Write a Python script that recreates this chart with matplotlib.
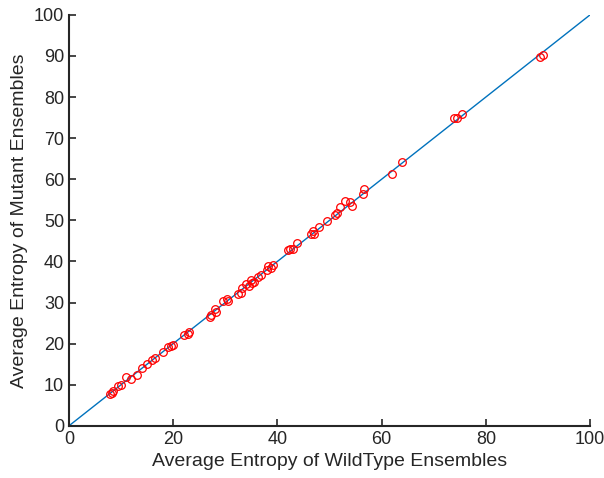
import matplotlib.pyplot as plt

wildtype = [7.8, 8.2, 8.5, 9.5, 10.0, 11.0, 12.0, 13.0, 14.0, 15.0, 16.0, 16.5, 18.0,
            19.0, 19.5, 20.0, 22.0, 22.8, 23.0, 27.0, 27.2, 28.0, 28.2, 29.5, 30.3,
            30.5, 32.5, 33.0, 33.3, 34.0, 34.5, 35.0, 35.2, 35.5, 36.3, 36.8, 38.0,
            38.3, 38.7, 39.2, 42.0, 42.5, 43.0, 43.8, 46.5, 46.8, 47.0, 48.0, 49.5,
            51.0, 51.5, 52.0, 53.0, 54.0, 54.3, 56.5, 56.7, 62.0, 64.0, 73.8, 74.5,
            75.5, 90.3, 91.0]
mutant = [7.8, 8.0, 8.5, 9.6, 10.0, 12.0, 11.5, 12.5, 14.0, 15.0, 16.0, 16.5, 18.0,
          19.2, 19.5, 19.8, 22.0, 22.3, 22.8, 26.5, 27.0, 28.5, 27.8, 30.3, 30.8,
          30.5, 32.0, 32.3, 33.5, 34.5, 34.0, 35.5, 34.8, 35.0, 36.2, 36.6, 38.0,
          38.8, 38.3, 39.2, 42.8, 43.0, 43.0, 44.5, 46.8, 47.5, 46.8, 48.5, 49.8,
          51.2, 51.8, 53.2, 54.8, 54.5, 53.5, 56.3, 57.7, 61.2, 64.3, 74.8, 75.0,
          75.8, 89.8, 90.2]

plt.rcParams['font.family'] = ['Liberation Sans', 'DejaVu Sans']

fig = plt.figure(figsize=(6.04, 4.78), dpi=100)
ax = fig.add_axes([0.114, 0.109, 0.863, 0.860])

ax.plot([0, 100], [0, 100], color="#0072BD", linewidth=1.0)
ax.plot(wildtype, mutant, 'o', markerfacecolor='none', markeredgecolor='red',
        markersize=5.5, markeredgewidth=0.9)

ax.set_xlim(0, 100)
ax.set_ylim(0, 100)
ax.set_xticks(range(0, 101, 20))
ax.set_yticks(range(0, 101, 10))
ax.spines['top'].set_visible(False)
ax.spines['right'].set_visible(False)
for s in ['left', 'bottom']:
    ax.spines[s].set_linewidth(1.5)
    ax.spines[s].set_color('#262626')
ax.tick_params(direction='in', length=5, width=1.2, labelsize=13, colors='#262626')
ax.set_xlabel("Average Entropy of WildType Ensembles", fontsize=14, color='#262626')
ax.set_ylabel("Average Entropy of Mutant Ensembles", fontsize=14, color='#262626')

plt.savefig("out.png")
